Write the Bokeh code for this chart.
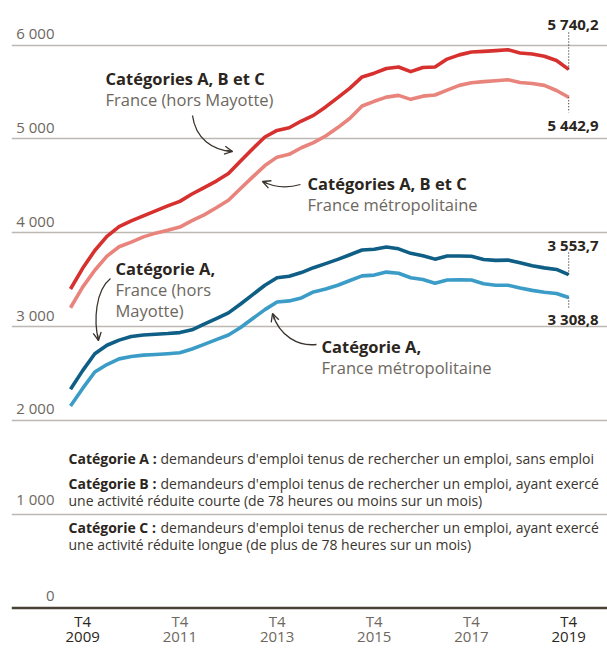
from bokeh.plotting import figure
from bokeh.models import Range1d, Grid, FixedTicker, Span, Arrow, OpenHead
from bokeh.core.properties import value
from bokeh.embed import file_html
from bokeh.resources import INLINE

# ---------------- data (thousands of job seekers, quarterly T3 2009 .. T4 2019)
quarters = [f"T{q} {y}" for y in range(2009, 2020) for q in (1, 2, 3, 4)][2:]
abc_france = [3400, 3620, 3810, 3960, 4065, 4125, 4180, 4232, 4285, 4334, 4412, 4480,
              4550, 4630, 4765, 4895, 5020, 5090, 5118, 5190, 5250, 5340, 5440, 5540,
              5660, 5700, 5750, 5766, 5716, 5760, 5766, 5850, 5895, 5925, 5932, 5940,
              5950, 5915, 5905, 5880, 5835, 5740.2]
abc_metro = [3200, 3420, 3600, 3750, 3850, 3900, 3955, 3995, 4025, 4060, 4128, 4190,
             4265, 4345, 4470, 4595, 4715, 4805, 4835, 4905, 4960, 5030, 5120, 5220,
             5350, 5400, 5445, 5463, 5421, 5455, 5467, 5520, 5570, 5598, 5610, 5620,
             5630, 5600, 5590, 5570, 5515, 5442.9]
a_france = [2331, 2530, 2710, 2800, 2855, 2893, 2910, 2918, 2925, 2935, 2965, 3025,
            3085, 3145, 3240, 3340, 3440, 3520, 3535, 3575, 3627, 3670, 3715, 3765,
            3815, 3823, 3848, 3828, 3780, 3755, 3718, 3751, 3752, 3748, 3715, 3705,
            3708, 3680, 3648, 3625, 3608, 3553.7]
a_metro = [2153, 2340, 2515, 2595, 2655, 2680, 2695, 2702, 2710, 2720, 2760, 2810,
           2860, 2910, 2990, 3085, 3180, 3262, 3273, 3305, 3368, 3400, 3440, 3490,
           3540, 3548, 3580, 3568, 3520, 3500, 3462, 3495, 3497, 3495, 3455, 3440,
           3440, 3410, 3385, 3365, 3352, 3308.8]
end_labels = ["5 740,2", "5 442,9", "3 553,7", "3 308,8"]
y_ticks = [0, 1000, 2000, 3000, 4000, 5000, 6000]
y_tick_labels = ["0", "1 000", "2 000", "3 000", "4 000", "5 000", "6 000"]
x_tick_quarters = ["T4 2009", "T4 2011", "T4 2013", "T4 2015", "T4 2017", "T4 2019"]

idx = list(range(len(quarters)))
x_ticks = [quarters.index(q) for q in x_tick_quarters]

# ---------------- layout helpers (page pixels -> data)
W, H = 607, 648
PXU = 12.15          # px per quarter
FRAME_L = 11         # page x of frame left
X0 = (FRAME_L - 70) / PXU
X1 = X0 + (W - FRAME_L) / PXU
PYU = 0.09383        # px per thousand
def px2x(px):
    return X0 + (px - FRAME_L) / PXU
def px2y(py):
    return (607.5 - py) / PYU

DARK = "#2b2520"
GREY = "#6d6760"
FONT = value("Open Sans")

p = figure(width=W, height=H, x_range=Range1d(X0, X1),
           y_range=Range1d(px2y(H), px2y(0)),
           x_axis_type=None, y_axis_type=None,
           output_backend="svg", toolbar_location=None,
           min_border_left=FRAME_L, min_border_right=0, min_border_top=0,
           min_border_bottom=0, outline_line_color=None,
           background_fill_color="white", border_fill_color="white")

p.add_layout(Grid(dimension=1, ticker=FixedTicker(ticks=y_ticks[1:]),
                  grid_line_color="#bcb8b2", grid_line_width=1.5))
p.add_layout(Span(location=0, dimension="width", line_color="#4a4036", line_width=2.5))

# y tick labels
p.text(x=[px2x(54)] * len(y_ticks), y=y_ticks, text=y_tick_labels,
       text_font=FONT, text_font_size="15px", text_color=GREY,
       text_align="right", text_baseline="middle",
       y_offset=[-12, -15, -12, -12, -12, -12, -12])

# x tick labels
for i, q in zip(x_ticks, x_tick_quarters):
    t, yr = q.split(" ")
    col = DARK if q in (x_tick_quarters[0], x_tick_quarters[-1]) else GREY
    p.text(x=[i, i], y=[0, 0], text=[t, yr], y_offset=[13, 29],
           text_font=FONT, text_font_size="15px", text_color=col,
           text_align="center", text_baseline="middle")

# series
p.line(idx, abc_metro, line_color="#e8847c", line_width=3.6, line_join="round")
p.line(idx, abc_france, line_color="#d6302f", line_width=3.6, line_join="round")
p.line(idx, a_metro, line_color="#3b9cc7", line_width=3.6, line_join="round")
p.line(idx, a_france, line_color="#0f5e86", line_width=3.6, line_join="round")

# end values and dotted leaders
last = idx[-1]
ends = [abc_france[-1], abc_metro[-1], a_france[-1], a_metro[-1]]
lab_py = [23, 124, 244, 318]
lead_py = [32, 112, 252, 308]
for v, lab, lpy, dpy in zip(ends, end_labels, lab_py, lead_py):
    p.text(x=[last], y=[px2y(lpy)], text=[lab], x_offset=30,
           text_font=FONT, text_font_size="15px", text_font_style="bold",
           text_color=DARK, text_align="right", text_baseline="middle")
    p.segment(x0=[last], y0=[v], x1=[last], y1=[px2y(dpy)],
              line_color="#3a332d", line_width=1.2, line_dash="1 2")

# annotations
def label(px, py, bold, normal_lines, size="16.5px"):
    p.text(x=[px2x(px)], y=[px2y(py)], text=[bold], text_font=FONT,
           text_font_size=size, text_font_style="bold", text_color=DARK,
           text_align="left", text_baseline="middle")
    for k, ln in enumerate(normal_lines):
        p.text(x=[px2x(px)], y=[px2y(py + 21 * (k + 1))], text=[ln], text_font=FONT,
               text_font_size=size, text_color=GREY,
               text_align="left", text_baseline="middle")

label(105, 78, "Catégories A, B et C", ["France (hors Mayotte)"])
label(307, 183, "Catégories A, B et C", ["France métropolitaine"])
label(115, 268, "Catégorie A,", ["France (hors", "Mayotte)"])
label(321, 346, "Catégorie A,", ["France métropolitaine"])

ARROW_C = "#3a332d"
def curve(p0, c0, c1, p1, tail):
    p.bezier(x0=[px2x(p0[0])], y0=[px2y(p0[1])], x1=[px2x(p1[0])], y1=[px2y(p1[1])],
             cx0=[px2x(c0[0])], cy0=[px2y(c0[1])], cx1=[px2x(c1[0])], cy1=[px2y(c1[1])],
             line_color=ARROW_C, line_width=1.3)
    p.add_layout(Arrow(end=OpenHead(size=8, line_color=ARROW_C, line_width=1.3),
                       x_start=px2x(tail[0]), y_start=px2y(tail[1]),
                       x_end=px2x(p1[0]), y_end=px2y(p1[1]),
                       line_color=ARROW_C, line_width=1.3))

curve((192, 115), (195, 138), (212, 150), (232, 151), (226, 150))
curve((300, 184), (286, 188), (272, 186), (262, 181), (267, 183))
curve((110, 278), (95, 290), (93, 320), (98, 340), (97, 334))
curve((316, 344), (298, 346), (279, 336), (272, 313), (274, 319))

# definitions block
defs = [
    (458, "Catégorie A :", "demandeurs d'emploi tenus de rechercher un emploi, sans emploi", None),
    (483, "Catégorie B :", "demandeurs d'emploi tenus de rechercher un emploi, ayant exercé",
     "une activité réduite courte (de 78 heures ou moins sur un mois)"),
    (527, "Catégorie C :", "demandeurs d'emploi tenus de rechercher un emploi, ayant exercé",
     "une activité réduite longue (de plus de 78 heures sur un mois)"),
]
for py, b, n, n2 in defs:
    p.text(x=[px2x(68)], y=[px2y(py)], text=[b], text_font=FONT, text_font_size="14px",
           text_font_style="bold", text_color=DARK, text_align="left", text_baseline="middle")
    p.text(x=[px2x(160)], y=[px2y(py)], text=[n], text_font=FONT, text_font_size="14px",
           text_color="#3b352f", text_align="left", text_baseline="middle")
    if n2:
        p.text(x=[px2x(68)], y=[px2y(py + 17)], text=[n2], text_font=FONT,
               text_font_size="14px", text_color="#3b352f", text_align="left",
               text_baseline="middle")

open("out.html", "w").write(file_html(p, INLINE))
